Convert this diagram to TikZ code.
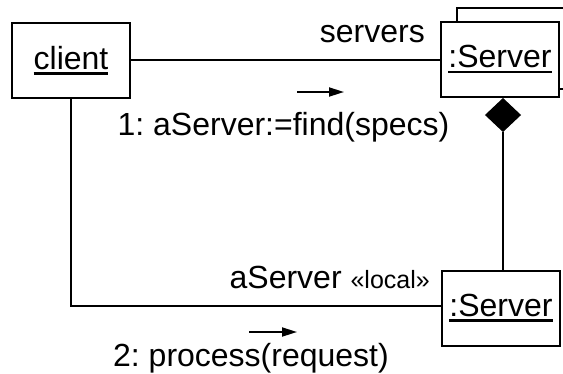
\documentclass[tikz,border=0pt]{standalone}
\usepackage{fontspec}
\setmainfont{Liberation Sans}
\frenchspacing
\usetikzlibrary{shapes.geometric,arrows.meta}
\newcommand\myul[1]{\begingroup\setbox0\hbox{#1}\rlap{\vrule height -3pt depth 5.5pt width \wd0}\box0\endgroup}
\tikzset{
  obj/.style={draw, line width=2pt, minimum width=118pt, minimum height=75pt, inner sep=0pt, font=\fontsize{32}{38}\selectfont},
  lbl/.style={inner sep=0pt, font=\fontsize{32}{38}\selectfont},
  link/.style={line width=2pt},
  msg/.style={line width=1.8pt, -{Triangle[length=15pt,width=9pt]}}
}
\begin{document}
\begin{tikzpicture}[x=1pt,y=-1pt]
\useasboundingbox (0,0) rectangle (563,373);
% shadow of multi-object
\begin{scope}
\clip (0,0) rectangle (563,373);
\draw[line width=2pt, fill=white] (457,8) rectangle (580,89);
\end{scope}
\node[obj, fill=white] (client) at (71,60.5) {\myul{client}};
\node[obj, fill=white] (s1) at (500,59.5) {\myul{:Server}};
\node[obj] (s2) at (501,308) {\myul{:Server}};
\node[diamond, fill=black, draw=black, line width=1pt, minimum width=35pt, minimum height=33pt, inner sep=0pt, anchor=north] (dia) at ([xshift=3pt]s1.south) {};
\coordinate (corner) at ([yshift=2pt]client.south |- s2.west);
\draw[link] (client.east |- s1.west) -- (s1.west);
\draw[link] (dia.south) -- (dia.south |- s2.north);
\draw[link] (client.south) -- (corner) -- (corner -| s2.west);
\node[lbl, anchor=base east] (lservers) at (425,42) {servers};
\coordinate (a1s) at (297,92);
\coordinate (a1e) at (344,92);
\draw[msg] (a1s) -- (a1e);
\node[lbl, anchor=base] (m1) at (283.5,135) {1: aServer:=find(specs)};
\node[lbl, anchor=base east] (lasrv) at (430,288) {aServer {\fontsize{25}{30}\selectfont «local»}};
\coordinate (a2s) at (249,332);
\coordinate (a2e) at (297,332);
\draw[msg] (a2s) -- (a2e);
\node[lbl, anchor=base] (m2) at (251,366) {2: process(request)};
\end{tikzpicture}
\end{document}
